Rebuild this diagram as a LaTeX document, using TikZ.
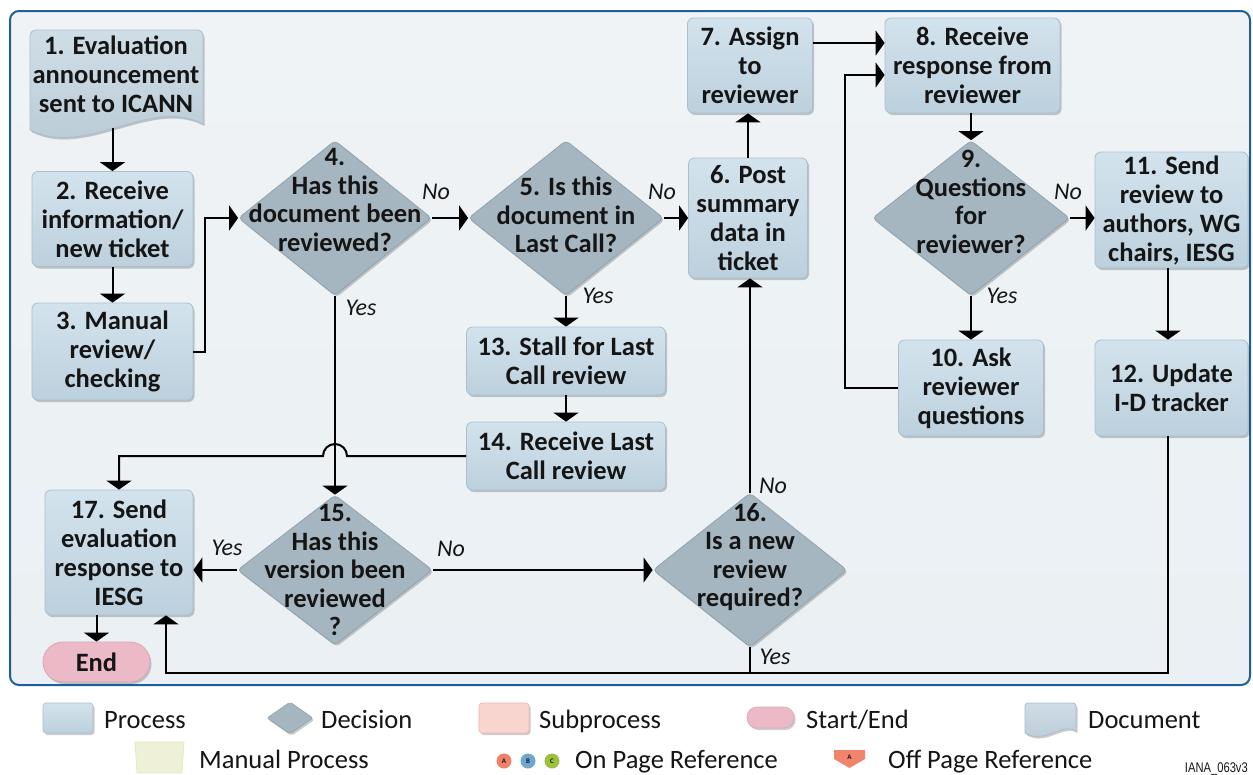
\documentclass[tikz,border=0pt]{standalone}
\usepackage{fontspec}
\setmainfont{Carlito}
\newfontfamily\tagfont{Liberation Sans}[FakeStretch=0.8]
\usetikzlibrary{shapes.geometric, arrows.meta, shadows, calc}

\definecolor{proctop}{HTML}{D3E3ED}
\definecolor{procbot}{HTML}{BCD0DD}
\definecolor{procline}{HTML}{A8BFCE}
\definecolor{doctop}{HTML}{CFDDE6}
\definecolor{docbot}{HTML}{B9CAD6}
\definecolor{decfill}{HTML}{A6B6C0}
\definecolor{decline}{HTML}{8FA2AE}
\definecolor{frametop}{HTML}{EFF3F6}
\definecolor{framebot}{HTML}{EAF0F3}
\definecolor{frameline}{HTML}{1F5F98}
\definecolor{endfill}{HTML}{EBBAC6}
\definecolor{endline}{HTML}{DBA6B4}
\definecolor{subfill}{HTML}{F9D5D0}
\definecolor{subline}{HTML}{EDB7B0}
\definecolor{manfill}{HTML}{EEF1D8}
\definecolor{manline}{HTML}{E0E5C0}
\definecolor{refA}{HTML}{EE806C}
\definecolor{refB}{HTML}{6FA7CF}
\definecolor{refC}{HTML}{9DC03F}
\definecolor{offfill}{HTML}{F0846C}
\definecolor{ink}{HTML}{151515}

\newcommand{\boxfont}{\bfseries\fontsize{26.5pt}{29pt}\selectfont}
\newcommand{\diafont}{\bfseries\fontsize{26.5pt}{28.5pt}\selectfont}
\newcommand{\labfont}{\itshape\fontsize{24pt}{28pt}\selectfont}
\newcommand{\legfont}{\fontsize{26.5pt}{29pt}\selectfont}

\begin{document}
\begin{tikzpicture}[x=1pt, y=-1pt,
  every node/.style={text=ink},
  softshadow/.style={drop shadow={shadow xshift=1.5pt, shadow yshift=-2pt, opacity=0.2, fill=black}},
  proc/.style 2 args={rectangle, rounded corners=6pt, draw=procline, line width=0.8pt,
    top color=proctop, bottom color=procbot, minimum width=#1pt, minimum height=#2pt,
    inner sep=0pt, align=center, font=\boxfont, softshadow},
  dia/.style 2 args={diamond, rounded corners=4pt, draw=decline, line width=0.8pt, fill=decfill,
    minimum width=#1pt, minimum height=#2pt, inner sep=0pt, softshadow},
  dtext/.style={align=center, font=\diafont, inner sep=0pt},
  docshape/.style={draw=procline, line width=0.8pt, top color=doctop, bottom color=docbot, softshadow},
  endpill/.style={rectangle, rounded corners=20pt, draw=endline, line width=0.8pt, fill=endfill,
    minimum width=107pt, minimum height=40pt, inner sep=0pt, font=\boxfont, softshadow},
  lab/.style={font=\labfont, inner sep=0pt},
  legtext/.style={font=\legfont, inner sep=0pt, anchor=base west},
  refdot/.style={circle, minimum size=15pt, inner sep=0pt, font=\bfseries\fontsize{7pt}{7pt}\selectfont},
  conn/.style={line width=2pt, draw=black},
  arr/.style={conn, -{Triangle[width=25pt, length=9pt]}}
]
\useasboundingbox (0,0) rectangle (1253,774);
\fill[white] (0,0) rectangle (1253,774);

% chart frame
\path[draw=frameline, line width=2pt, top color=frametop, bottom color=framebot, rounded corners=9pt]
  (10,11) rectangle (1250,685);

% 1: document shape with its text
\path[docshape, rounded corners=6pt] (30,130) -- (30,30) -- (203,30) [sharp corners] -- (203,124)
  .. controls (150,96) and (85,158) .. (30,130) -- cycle;
\node[dtext, font=\boxfont] (n1) at (116,74) {1. Evaluation\\announcement\\sent to ICANN};
\coordinate (n1b) at (112.5,128);

% process boxes
\node[proc={161}{95}]  (n2)  at (112.5,219)  {2. Receive\\information/\\new ticket};
\node[proc={161}{97}]  (n3)  at (112.5,351.5) {3. Manual\\review/\\checking};
\node[proc={119}{120}] (n6)  at (748,218)    {6. Post\\summary\\data in\\ticket};
\node[proc={125}{95}]  (n7)  at (750,65.5)   {7. Assign\\to\\reviewer};
\node[proc={175}{95}]  (n8)  at (972.5,65.5) {8. Receive\\response from\\reviewer};
\node[proc={145}{96}]  (n10) at (971,388)    {10. Ask\\reviewer\\questions};
\node[proc={153}{116}] (n11) at (1171.5,210) {11. Send\\review to\\authors, WG\\chairs, IESG};
\node[proc={153}{96}]  (n12) at (1171.5,388) {12. Update\\I-D tracker};
\node[proc={199}{68}]  (n13) at (566,361)    {13. Stall for Last\\Call review};
\node[proc={199}{68}]  (n14) at (566,456)    {14. Receive Last\\Call review};
\node[proc={148}{125}] (n17) at (119,552.5)  {17. Send\\evaluation\\response to\\IESG};
\node[endpill] (end) at (96.5,662) {End};

% decisions
\node[dia={193}{155}] (d4) at (335,218) {};
\node[dtext] (d4t) at (335,200) {4.\\Has this\\document been\\reviewed?};
\node[dia={195}{155}] (d5) at (566,218) {};
\node[dtext] (d5t) at (566,215) {5. Is this\\document in\\Last Call?};
\node[dia={197}{155}] (d9) at (971,218) {};
\node[dtext] (d9t) at (971,202) {9.\\Questions\\for\\reviewer?};
\node[dia={195}{150}] (d15) at (335,570) {};
\node[dtext] (d15t) at (335,570) {15.\\Has this\\version been\\reviewed\\?};
\node[dia={194}{154}] (d16) at (750,570) {};
\node[dtext] (d16t) at (750,557) {16.\\Is a new\\review\\required?};

% connectors
\draw[arr] (n1b) -- (n2.north);
\draw[arr] (n2) -- (n3);
\draw[arr] (n3.east) -- ++(12,0) |- (d4.west);
\draw[arr] (d4.east) -- (d5.west);
\draw[arr] (d5.east) -- (n6.west);
\draw[arr] (n6.north) -- (n6.north |- n7.south);
\draw[arr] ([yshift=22.5pt]n7.east) -- ([yshift=22.5pt]n8.west);
\draw[arr] (n8.south -| d9.north) -- (d9.north);
\draw[arr] (d9.east) -- (d9.east -| n11.west);
\draw[arr] (d9.south) -- (d9.south |- n10.north);
\draw[arr] (n10.west) -- ++(-53,0) |- ([yshift=-9.5pt]n8.west);
\draw[arr] ([xshift=-3.5pt]n11.south) -- ([xshift=-3.5pt]n12.north);
\coordinate (bus) at (1168,673);
\draw[arr] ([xshift=-3.5pt]n12.south) -- (bus) -| ([xshift=47pt]n17.south);
\draw[conn] (d16.south) -- (d16.south |- bus);
\draw[arr] (d16.north) -- (d16.north |- n6.south);
\draw[arr] (d5.south) -- (d5.south |- n13.north);
\draw[arr] (n13) -- (n14);
\draw[arr] (n14.west) -- ($(d4.south |- n14.west)+(12,0)$)
  arc[start angle=0, end angle=180, radius=12pt] -| (n17.north);
\draw[arr] (d4.south) -- (d15.north);
\draw[arr] (d15.west) -- (d15.west -| n17.east);
\draw[arr] (d15.east) -- (d16.west);
\draw[arr] (n17.south -| end.north) -- (end.north);

% branch labels
\node[lab] (l4n)  at (436,192)  {No};
\node[lab] (l5n)  at (662,192)  {No};
\node[lab] (l9n)  at (1068,192) {No};
\node[lab] (l4y)  at (361,308)  {Yes};
\node[lab] (l5y)  at (598,296)  {Yes};
\node[lab] (l9y)  at (1002,296) {Yes};
\node[lab] (l15y) at (227,548)  {Yes};
\node[lab] (l15n) at (451,549)  {No};
\node[lab] (l16n) at (773,486)  {No};
\node[lab] (l16y) at (775,657)  {Yes};

% legend, first row
\node[rectangle, rounded corners=3pt, draw=procline, line width=0.6pt, top color=proctop, bottom color=procbot,
  minimum width=50pt, minimum height=30pt, softshadow] (kproc) at (68,718) {};
\node[legtext] (kproct) at (104,728) {Process};
\node[diamond, rounded corners=2pt, draw=decline, line width=0.6pt, fill=decfill,
  minimum width=46pt, minimum height=32pt, inner sep=0pt, softshadow] (kdec) at (290,718) {};
\node[legtext] (kdect) at (321,728) {Decision};
\node[rectangle, rounded corners=3pt, draw=subline, line width=0.6pt, fill=subfill,
  minimum width=50pt, minimum height=30pt, softshadow] (ksub) at (504,718) {};
\node[legtext] (ksubt) at (539,728) {Subprocess};
\node[rectangle, rounded corners=10pt, draw=endline, line width=0.6pt, fill=endfill,
  minimum width=47pt, minimum height=21pt, inner sep=0pt, softshadow] (kend) at (770.5,717.5) {};
\node[legtext] (kendt) at (806,728) {Start/End};
\path[docshape, rounded corners=3pt] (1025,733) -- (1025,703) -- (1076,703) [sharp corners] -- (1076,731)
  .. controls (1062,722) and (1044,745) .. (1025,733) -- cycle;
\coordinate (kdoc) at (1050,718);
\node[legtext] (kdoct) at (1088,728) {Document};

% legend, second row
\path[fill=manfill, draw=manline, line width=0.6pt] (135,742) -- (184,742) -- (182,773) -- (137,773) -- cycle;
\coordinate (kman) at (159.5,757);
\node[legtext] (kmant) at (199,768) {Manual Process};
\node[refdot, fill=refA] (ka) at (504,761) {A};
\node[refdot, fill=refB] (kb) at (528,761) {B};
\node[refdot, fill=refC] (kc) at (552,761) {C};
\node[legtext] (kont) at (575,768) {On Page Reference};
\path[fill=offfill] (834,750) -- (865,750) -- (865,759) -- (849.5,768) -- (834,759) -- cycle;
\node[font=\bfseries\fontsize{7pt}{7pt}\selectfont, inner sep=0pt] (koff) at (849.5,757) {A};
\node[legtext] (kofft) at (888,768) {Off Page Reference};
\node[font=\tagfont\fontsize{14pt}{14pt}\selectfont, inner sep=0pt, anchor=base east] (tag) at (1248,772) {IANA\_063v3};
\end{tikzpicture}
\end{document}
